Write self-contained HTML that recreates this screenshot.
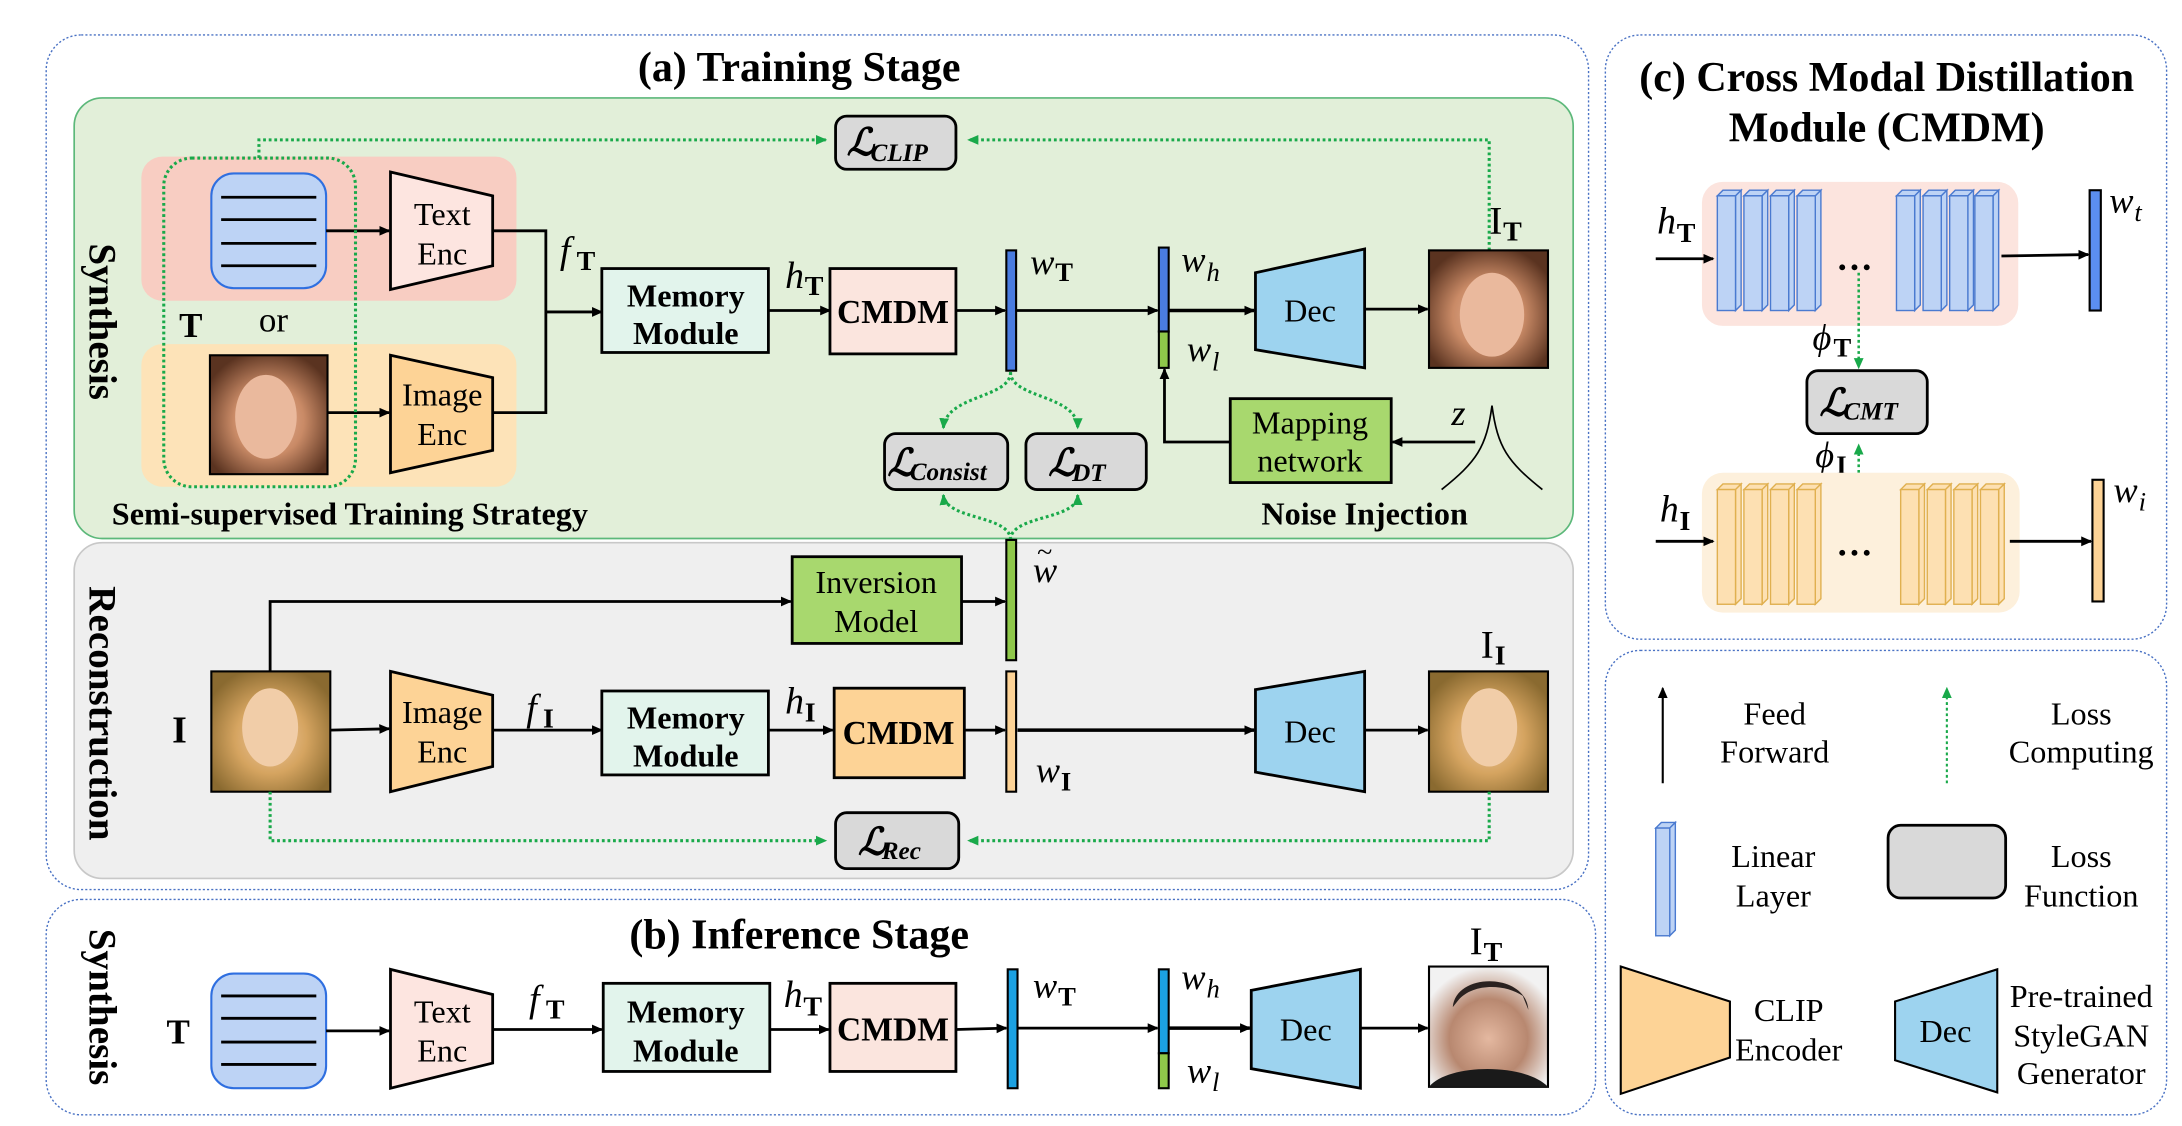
<!DOCTYPE html>
<html><head><meta charset="utf-8"><style>
html,body{margin:0;padding:0;background:#fff;}
svg{display:block;}
text{font-family:"Liberation Serif","DejaVu Serif",serif;fill:#000;}
.b{font-weight:bold;}
.m{font-style:italic;}
</style></head><body>
<svg width="2182" height="1126" viewBox="0 0 1559 805" preserveAspectRatio="none" xmlns="http://www.w3.org/2000/svg">
<defs>
<marker id="ar" markerWidth="8" markerHeight="8" refX="7" refY="4" orient="auto" markerUnits="userSpaceOnUse"><path d="M0,0.5 L8,4 L0,7.5 Z" fill="#000"/></marker>
<marker id="ag" markerWidth="8" markerHeight="8" refX="7" refY="4" orient="auto" markerUnits="userSpaceOnUse"><path d="M0,0.5 L8,4 L0,7.5 Z" fill="#19a94a"/></marker>
<radialGradient id="f1" cx="0.5" cy="0.55" r="0.6"><stop offset="0" stop-color="#e9b59a"/><stop offset="0.5" stop-color="#c98a66"/><stop offset="1" stop-color="#5a3320"/></radialGradient>
<radialGradient id="f2" cx="0.5" cy="0.55" r="0.6"><stop offset="0" stop-color="#f0c8a0"/><stop offset="0.5" stop-color="#d5a460"/><stop offset="1" stop-color="#8a6a30"/></radialGradient>
<radialGradient id="f3" cx="0.5" cy="0.6" r="0.6"><stop offset="0" stop-color="#e4b8a0"/><stop offset="0.55" stop-color="#b88870"/><stop offset="1" stop-color="#f2f2f2"/></radialGradient>
</defs>

<rect x="33" y="25" width="1102" height="611" rx="25" fill="none" stroke="#4a72c4" stroke-width="1" stroke-dasharray="1.5,1.5"/>
<rect x="33" y="643" width="1107" height="154" rx="25" fill="none" stroke="#4a72c4" stroke-width="1" stroke-dasharray="1.5,1.5"/>
<rect x="1147" y="25" width="401" height="432" rx="25" fill="none" stroke="#4a72c4" stroke-width="1" stroke-dasharray="1.5,1.5"/>
<rect x="1147" y="465" width="401" height="332" rx="25" fill="none" stroke="#4a72c4" stroke-width="1" stroke-dasharray="1.5,1.5"/>

<text x="571" y="58" font-size="30" class="b" text-anchor="middle">(a) Training Stage</text>

<rect x="53" y="70" width="1071" height="315" rx="20" fill="#e2efd9" stroke="#5cb87a" stroke-width="1.2"/>
<rect x="53" y="388" width="1071" height="240" rx="20" fill="#efefef" stroke="#c8c8c8" stroke-width="1.2"/>

<text transform="translate(64,230) rotate(90)" font-size="28" class="b" text-anchor="middle">Synthesis</text>
<text transform="translate(64,510) rotate(90)" font-size="28" class="b" text-anchor="middle">Reconstruction</text>
<text transform="translate(64,720) rotate(90)" font-size="28" class="b" text-anchor="middle">Synthesis</text>

<rect x="101" y="112" width="268" height="103" rx="15" fill="#f8cdc2"/>
<rect x="101" y="246" width="268" height="102" rx="15" fill="#fde3b8"/>
<rect x="151" y="124" width="82" height="82" rx="16" fill="#bdd3f5" stroke="#2f6fe0" stroke-width="1.5"/>
<g stroke="#000" stroke-width="2"><line x1="158" y1="141" x2="226" y2="141"/><line x1="158" y1="157" x2="226" y2="157"/><line x1="158" y1="174" x2="226" y2="174"/><line x1="158" y1="190" x2="226" y2="190"/></g>
<polygon points="279,123 352,140 352,190 279,207" fill="#fde5e0" stroke="#000" stroke-width="2"/>
<text x="316" y="161" font-size="23" text-anchor="middle">Text</text>
<text x="316" y="189" font-size="23" text-anchor="middle">Enc</text>
<line x1="233" y1="165" x2="278" y2="165" stroke="#000" stroke-width="2" marker-end="url(#ar)"/>
<rect x="150" y="254" width="84" height="85" fill="url(#f1)" stroke="#000" stroke-width="1.5"/>
<ellipse cx="190" cy="298" rx="22" ry="30" fill="#eab99d"/>
<polygon points="279,254 352,270 352,322 279,338" fill="#fdd396" stroke="#000" stroke-width="2"/>
<text x="316" y="290" font-size="23" text-anchor="middle">Image</text>
<text x="316" y="318" font-size="23" text-anchor="middle">Enc</text>
<line x1="234" y1="295" x2="278" y2="295" stroke="#000" stroke-width="2" marker-end="url(#ar)"/>
<polyline points="352,165 390,165 390,295 352,295" fill="none" stroke="#000" stroke-width="2"/>
<line x1="390" y1="223" x2="430" y2="223" stroke="#000" stroke-width="2" marker-end="url(#ar)"/>
<text x="400" y="188" font-size="27" class="m">f</text><text x="412" y="193" font-size="20" class="b">T</text>
<text x="128" y="241" font-size="25" class="b">T</text>
<text x="185" y="237" font-size="25">or</text>
<rect x="117" y="113" width="137" height="235" rx="20" fill="none" stroke="#19a94a" stroke-width="2.2" stroke-dasharray="2,2"/>
<polyline points="185,113 185,100 590,100" fill="none" stroke="#19a94a" stroke-width="2.2" stroke-dasharray="2,2" marker-end="url(#ag)"/>
<polyline points="1064,179 1064,100 692,100" fill="none" stroke="#19a94a" stroke-width="2.2" stroke-dasharray="2,2" marker-end="url(#ag)"/>
<rect x="597" y="83" width="86" height="38" rx="8" fill="#d9d9d9" stroke="#000" stroke-width="2"/>
<text x="605" y="111" font-size="27" class="m b">ℒ</text><text x="622" y="115" font-size="18" class="m b">CLIP</text>

<rect x="430" y="192" width="119" height="60" fill="#e2f4ec" stroke="#000" stroke-width="2"/>
<text x="490" y="219" font-size="23" class="b" text-anchor="middle">Memory</text>
<text x="490" y="246" font-size="23" class="b" text-anchor="middle">Module</text>
<text x="561" y="206" font-size="27" class="m">h</text><text x="575" y="211" font-size="20" class="b">T</text>
<line x1="549" y1="222" x2="593" y2="222" stroke="#000" stroke-width="2" marker-end="url(#ar)"/>
<rect x="593" y="192" width="90" height="61" fill="#fbe5de" stroke="#000" stroke-width="2"/>
<text x="638" y="231" font-size="24" class="b" text-anchor="middle">CMDM</text>
<line x1="683" y1="222" x2="718" y2="222" stroke="#000" stroke-width="2" marker-end="url(#ar)"/>
<rect x="719" y="179" width="7" height="86" fill="#4a7ce0" stroke="#000" stroke-width="1.5"/>
<text x="736" y="196" font-size="26" class="m">w</text><text x="754" y="201" font-size="19" class="b">T</text>
<line x1="726" y1="222" x2="827" y2="222" stroke="#000" stroke-width="2" marker-end="url(#ar)"/>
<rect x="828" y="177" width="7" height="60" fill="#4a7ce0" stroke="#000" stroke-width="1.5"/>
<rect x="828" y="237" width="7" height="26" fill="#8fc84a" stroke="#000" stroke-width="1.5"/>
<text x="844" y="194" font-size="26" class="m">w</text><text x="862" y="201" font-size="19" class="m">h</text>
<text x="848" y="258" font-size="26" class="m">w</text><text x="866" y="265" font-size="19" class="m">l</text>
<line x1="835" y1="222" x2="896" y2="222" stroke="#000" stroke-width="2.5" marker-end="url(#ar)"/>
<polygon points="897,195 975,178 975,263 897,250" fill="#9dd3ef" stroke="#000" stroke-width="2"/>
<text x="936" y="230" font-size="23" text-anchor="middle">Dec</text>
<line x1="975" y1="221" x2="1020" y2="221" stroke="#000" stroke-width="2" marker-end="url(#ar)"/>
<rect x="1021" y="179" width="85" height="84" fill="url(#f1)" stroke="#000" stroke-width="1.5"/>
<ellipse cx="1066" cy="225" rx="23" ry="30" fill="#eab99d"/>
<text x="1064" y="167" font-size="28">I</text><text x="1074" y="172" font-size="20" class="b">T</text>
<rect x="879" y="285" width="115" height="60" fill="#a8d86e" stroke="#000" stroke-width="2"/>
<text x="936" y="310" font-size="23" text-anchor="middle">Mapping</text>
<text x="936" y="337" font-size="23" text-anchor="middle">network</text>
<line x1="1054" y1="316" x2="995" y2="316" stroke="#000" stroke-width="2" marker-end="url(#ar)"/>
<polyline points="879,316 832,316 832,264" fill="none" stroke="#000" stroke-width="2" marker-end="url(#ar)"/>
<text x="1037" y="304" font-size="26" class="m">z</text>
<path d="M1030,350 C1055,330 1062,320 1066,290 C1070,320 1077,330 1102,350" fill="none" stroke="#000" stroke-width="1.2"/>
<text x="975" y="375" font-size="23" class="b" text-anchor="middle">Noise Injection</text>
<text x="250" y="375" font-size="23" class="b" text-anchor="middle">Semi-supervised Training Strategy</text>

<rect x="632" y="310" width="88" height="40" rx="8" fill="#d9d9d9" stroke="#000" stroke-width="2"/>
<text x="634" y="340" font-size="27" class="m b">ℒ</text><text x="650" y="343" font-size="18" class="m b">Consist</text>
<rect x="733" y="310" width="86" height="40" rx="8" fill="#d9d9d9" stroke="#000" stroke-width="2"/>
<text x="749" y="340" font-size="27" class="m b">ℒ</text><text x="766" y="344" font-size="18" class="m b">DT</text>
<g fill="none" stroke="#19a94a" stroke-width="2.2" stroke-dasharray="2,2">
<path d="M722,266 C722,285 676,282 674,306" marker-end="url(#ag)"/>
<path d="M722,266 C722,285 770,282 770,306" marker-end="url(#ag)"/>
<path d="M722,386 C722,368 676,372 674,354" marker-end="url(#ag)"/>
<path d="M722,386 C722,368 770,372 770,354" marker-end="url(#ag)"/>
</g>

<rect x="719" y="386" width="7" height="86" fill="#8fc84a" stroke="#000" stroke-width="1.5"/>
<text x="738" y="416" font-size="26" class="m">w</text><text x="741" y="401" font-size="20">~</text>
<rect x="566" y="398" width="121" height="62" fill="#a8d86e" stroke="#000" stroke-width="2"/>
<text x="626" y="424" font-size="23" text-anchor="middle">Inversion</text>
<text x="626" y="452" font-size="23" text-anchor="middle">Model</text>
<polyline points="193,480 193,430 565,430" fill="none" stroke="#000" stroke-width="2" marker-end="url(#ar)"/>
<line x1="687" y1="430" x2="718" y2="430" stroke="#000" stroke-width="2" marker-end="url(#ar)"/>
<text x="123" y="531" font-size="27" class="b">I</text>
<rect x="151" y="480" width="85" height="86" fill="url(#f2)" stroke="#000" stroke-width="1.5"/>
<ellipse cx="193" cy="520" rx="20" ry="28" fill="#f1cda8"/>
<polygon points="279,480 352,497 352,548 279,566" fill="#fdd396" stroke="#000" stroke-width="2"/>
<text x="316" y="517" font-size="23" text-anchor="middle">Image</text>
<text x="316" y="545" font-size="23" text-anchor="middle">Enc</text>
<line x1="236" y1="522" x2="278" y2="521" stroke="#000" stroke-width="2" marker-end="url(#ar)"/>
<text x="376" y="515" font-size="27" class="m">f</text><text x="388" y="520" font-size="20" class="b">I</text>
<line x1="352" y1="522" x2="430" y2="522" stroke="#000" stroke-width="2" marker-end="url(#ar)"/>
<rect x="430" y="494" width="119" height="60" fill="#e2f4ec" stroke="#000" stroke-width="2"/>
<text x="490" y="521" font-size="23" class="b" text-anchor="middle">Memory</text>
<text x="490" y="548" font-size="23" class="b" text-anchor="middle">Module</text>
<text x="561" y="510" font-size="27" class="m">h</text><text x="575" y="516" font-size="20" class="b">I</text>
<line x1="549" y1="522" x2="595" y2="522" stroke="#000" stroke-width="2" marker-end="url(#ar)"/>
<rect x="596" y="492" width="93" height="64" fill="#fdd396" stroke="#000" stroke-width="2"/>
<text x="642" y="532" font-size="24" class="b" text-anchor="middle">CMDM</text>
<line x1="689" y1="522" x2="718" y2="522" stroke="#000" stroke-width="2" marker-end="url(#ar)"/>
<rect x="719" y="480" width="7" height="86" fill="#fdd396" stroke="#000" stroke-width="1.5"/>
<text x="740" y="559" font-size="26" class="m">w</text><text x="758" y="565" font-size="19" class="b">I</text>
<line x1="727" y1="522" x2="896" y2="522" stroke="#000" stroke-width="2.5" marker-end="url(#ar)"/>
<polygon points="897,493 975,480 975,566 897,552" fill="#9dd3ef" stroke="#000" stroke-width="2"/>
<text x="936" y="531" font-size="23" text-anchor="middle">Dec</text>
<line x1="975" y1="522" x2="1020" y2="522" stroke="#000" stroke-width="2" marker-end="url(#ar)"/>
<rect x="1021" y="480" width="85" height="86" fill="url(#f2)" stroke="#000" stroke-width="1.5"/>
<ellipse cx="1064" cy="520" rx="20" ry="28" fill="#f1cda8"/>
<text x="1058" y="470" font-size="28">I</text><text x="1068" y="475" font-size="20" class="b">I</text>
<rect x="597" y="581" width="88" height="40" rx="8" fill="#d9d9d9" stroke="#000" stroke-width="2"/>
<text x="613" y="611" font-size="27" class="m b">ℒ</text><text x="630" y="614" font-size="18" class="m b">Rec</text>
<polyline points="193,566 193,601 590,601" fill="none" stroke="#19a94a" stroke-width="2.2" stroke-dasharray="2,2" marker-end="url(#ag)"/>
<polyline points="1064,566 1064,601 692,601" fill="none" stroke="#19a94a" stroke-width="2.2" stroke-dasharray="2,2" marker-end="url(#ag)"/>

<text x="571" y="678" font-size="30" class="b" text-anchor="middle">(b) Inference Stage</text>
<text x="119" y="746" font-size="25" class="b">T</text>
<rect x="151" y="696" width="82" height="82" rx="16" fill="#bdd3f5" stroke="#2f6fe0" stroke-width="1.5"/>
<g stroke="#000" stroke-width="2"><line x1="158" y1="712" x2="226" y2="712"/><line x1="158" y1="728" x2="226" y2="728"/><line x1="158" y1="745" x2="226" y2="745"/><line x1="158" y1="761" x2="226" y2="761"/></g>
<line x1="233" y1="737" x2="278" y2="737" stroke="#000" stroke-width="2" marker-end="url(#ar)"/>
<polygon points="279,693 352,711 352,760 279,778" fill="#fde5e0" stroke="#000" stroke-width="2"/>
<text x="316" y="731" font-size="23" text-anchor="middle">Text</text>
<text x="316" y="759" font-size="23" text-anchor="middle">Enc</text>
<line x1="352" y1="736" x2="430" y2="736" stroke="#000" stroke-width="2" marker-end="url(#ar)"/>
<text x="378" y="723" font-size="27" class="m">f</text><text x="390" y="728" font-size="20" class="b">T</text>
<rect x="431" y="703" width="119" height="63" fill="#e2f4ec" stroke="#000" stroke-width="2"/>
<text x="490" y="731" font-size="23" class="b" text-anchor="middle">Memory</text>
<text x="490" y="759" font-size="23" class="b" text-anchor="middle">Module</text>
<text x="560" y="720" font-size="27" class="m">h</text><text x="574" y="726" font-size="20" class="b">T</text>
<line x1="550" y1="736" x2="592" y2="736" stroke="#000" stroke-width="2" marker-end="url(#ar)"/>
<rect x="593" y="703" width="90" height="63" fill="#fbe5de" stroke="#000" stroke-width="2"/>
<text x="638" y="744" font-size="24" class="b" text-anchor="middle">CMDM</text>
<line x1="683" y1="736" x2="719" y2="735" stroke="#000" stroke-width="2" marker-end="url(#ar)"/>
<rect x="720" y="693" width="7" height="85" fill="#1ba1e2" stroke="#000" stroke-width="1.5"/>
<text x="738" y="713" font-size="26" class="m">w</text><text x="756" y="719" font-size="19" class="b">T</text>
<line x1="727" y1="735" x2="827" y2="735" stroke="#000" stroke-width="2" marker-end="url(#ar)"/>
<rect x="828" y="693" width="7" height="60" fill="#1ba1e2" stroke="#000" stroke-width="1.5"/>
<rect x="828" y="753" width="7" height="25" fill="#8fc84a" stroke="#000" stroke-width="1.5"/>
<text x="844" y="707" font-size="26" class="m">w</text><text x="862" y="713" font-size="19" class="m">h</text>
<text x="848" y="774" font-size="26" class="m">w</text><text x="866" y="780" font-size="19" class="m">l</text>
<line x1="835" y1="735" x2="893" y2="735" stroke="#000" stroke-width="2.5" marker-end="url(#ar)"/>
<polygon points="894,708 972,693 972,778 894,764" fill="#9dd3ef" stroke="#000" stroke-width="2"/>
<text x="933" y="744" font-size="23" text-anchor="middle">Dec</text>
<line x1="972" y1="735" x2="1020" y2="735" stroke="#000" stroke-width="2" marker-end="url(#ar)"/>
<rect x="1021" y="691" width="85" height="86" fill="url(#f3)" stroke="#000" stroke-width="1.5"/>
<path d="M1038,720 C1040,695 1090,695 1092,722 L1088,712 C1075,703 1052,703 1042,715 Z" fill="#2a2220"/>
<path d="M1021,777 C1035,760 1090,760 1106,777 Z" fill="#1a1a1a"/>
<text x="1050" y="682" font-size="28">I</text><text x="1060" y="687" font-size="20" class="b">T</text>

<text x="1348" y="65" font-size="30" class="b" text-anchor="middle">(c) Cross Modal Distillation</text>
<text x="1348" y="101" font-size="30" class="b" text-anchor="middle">Module (CMDM)</text>
<rect x="1216" y="130" width="226" height="103" rx="15" fill="#fce4de"/>
<g fill="#bdd3f5" stroke="#4a7ad0" stroke-width="1">
<g id="lb"><polygon points="1227,140 1231,136 1244,136 1240,140"/><polygon points="1240,140 1244,136 1244,218 1240,222"/><rect x="1227" y="140" width="13" height="82"/></g>
<use href="#lb" x="19"/><use href="#lb" x="38"/><use href="#lb" x="57"/>
<use href="#lb" x="128"/><use href="#lb" x="147"/><use href="#lb" x="166"/><use href="#lb" x="184"/>
</g>
<text x="1325" y="193" font-size="26" class="b" text-anchor="middle">…</text>
<text x="1184" y="167" font-size="27" class="m">h</text><text x="1198" y="173" font-size="20" class="b">T</text>
<line x1="1183" y1="185" x2="1224" y2="185" stroke="#000" stroke-width="2" marker-end="url(#ar)"/>
<line x1="1430" y1="183" x2="1492" y2="182" stroke="#000" stroke-width="2" marker-end="url(#ar)"/>
<rect x="1493" y="136" width="8" height="86" fill="#5b8ef0" stroke="#000" stroke-width="1.5"/>
<text x="1507" y="152" font-size="26" class="m">w</text><text x="1525" y="158" font-size="19" class="m">t</text>
<text x="1295" y="250" font-size="26" class="m">ϕ</text><text x="1310" y="255" font-size="19" class="b">T</text>
<line x1="1328" y1="195" x2="1328" y2="263" stroke="#19a94a" stroke-width="1.8" stroke-dasharray="2,2" marker-end="url(#ag)"/>
<rect x="1291" y="265" width="86" height="45" rx="8" fill="#d9d9d9" stroke="#000" stroke-width="2"/>
<text x="1300" y="297" font-size="27" class="m b">ℒ</text><text x="1317" y="300" font-size="18" class="m b">CMT</text>
<text x="1297" y="334" font-size="26" class="m">ϕ</text><text x="1312" y="339" font-size="19" class="b">I</text>
<line x1="1328" y1="390" x2="1328" y2="318" stroke="#19a94a" stroke-width="1.8" stroke-dasharray="2,2" marker-end="url(#ag)"/>
<rect x="1216" y="338" width="227" height="100" rx="15" fill="#fdf0dc"/>
<g fill="#fde0b2" stroke="#e0b050" stroke-width="1">
<g id="lo"><polygon points="1227,350 1231,346 1244,346 1240,350"/><polygon points="1240,350 1244,346 1244,428 1240,432"/><rect x="1227" y="350" width="13" height="82"/></g>
<use href="#lo" x="19"/><use href="#lo" x="38"/><use href="#lo" x="57"/>
<use href="#lo" x="131"/><use href="#lo" x="150"/><use href="#lo" x="169"/><use href="#lo" x="188"/>
</g>
<text x="1325" y="397" font-size="26" class="b" text-anchor="middle">…</text>
<text x="1186" y="373" font-size="27" class="m">h</text><text x="1200" y="379" font-size="20" class="b">I</text>
<line x1="1183" y1="387" x2="1224" y2="387" stroke="#000" stroke-width="2" marker-end="url(#ar)"/>
<line x1="1436" y1="387" x2="1494" y2="387" stroke="#000" stroke-width="2" marker-end="url(#ar)"/>
<rect x="1495" y="343" width="8" height="87" fill="#fdd396" stroke="#000" stroke-width="1.5"/>
<text x="1510" y="359" font-size="26" class="m">w</text><text x="1528" y="365" font-size="19" class="m">i</text>

<line x1="1188" y1="560" x2="1188" y2="492" stroke="#000" stroke-width="1.5" marker-end="url(#ar)"/>
<text x="1268" y="518" font-size="23" text-anchor="middle">Feed</text>
<text x="1268" y="545" font-size="23" text-anchor="middle">Forward</text>
<line x1="1391" y1="560" x2="1391" y2="492" stroke="#19a94a" stroke-width="1.5" stroke-dasharray="2,2" marker-end="url(#ag)"/>
<text x="1487" y="518" font-size="23" text-anchor="middle">Loss</text>
<text x="1487" y="545" font-size="23" text-anchor="middle">Computing</text>
<g fill="#bdd3f5" stroke="#4a7ad0" stroke-width="1"><polygon points="1183,592 1187,588 1197,588 1193,592"/><polygon points="1193,592 1197,588 1197,665 1193,669"/><rect x="1183" y="592" width="10" height="77"/></g>
<text x="1267" y="620" font-size="23" text-anchor="middle">Linear</text>
<text x="1267" y="648" font-size="23" text-anchor="middle">Layer</text>
<rect x="1349" y="590" width="84" height="52" rx="9" fill="#d9d9d9" stroke="#000" stroke-width="2"/>
<text x="1487" y="620" font-size="23" text-anchor="middle">Loss</text>
<text x="1487" y="648" font-size="23" text-anchor="middle">Function</text>
<polygon points="1158,691 1236,716 1236,756 1158,782" fill="#fdd396" stroke="#000" stroke-width="1.5"/>
<text x="1278" y="730" font-size="23" text-anchor="middle">CLIP</text>
<text x="1278" y="758" font-size="23" text-anchor="middle">Encoder</text>
<polygon points="1354,716 1427,693 1427,781 1354,758" fill="#9dd3ef" stroke="#000" stroke-width="1.5"/>
<text x="1390" y="745" font-size="23" text-anchor="middle">Dec</text>
<text x="1487" y="720" font-size="23" text-anchor="middle">Pre-trained</text>
<text x="1487" y="748" font-size="23" text-anchor="middle">StyleGAN</text>
<text x="1487" y="775" font-size="23" text-anchor="middle">Generator</text>
</svg>
</body></html>
